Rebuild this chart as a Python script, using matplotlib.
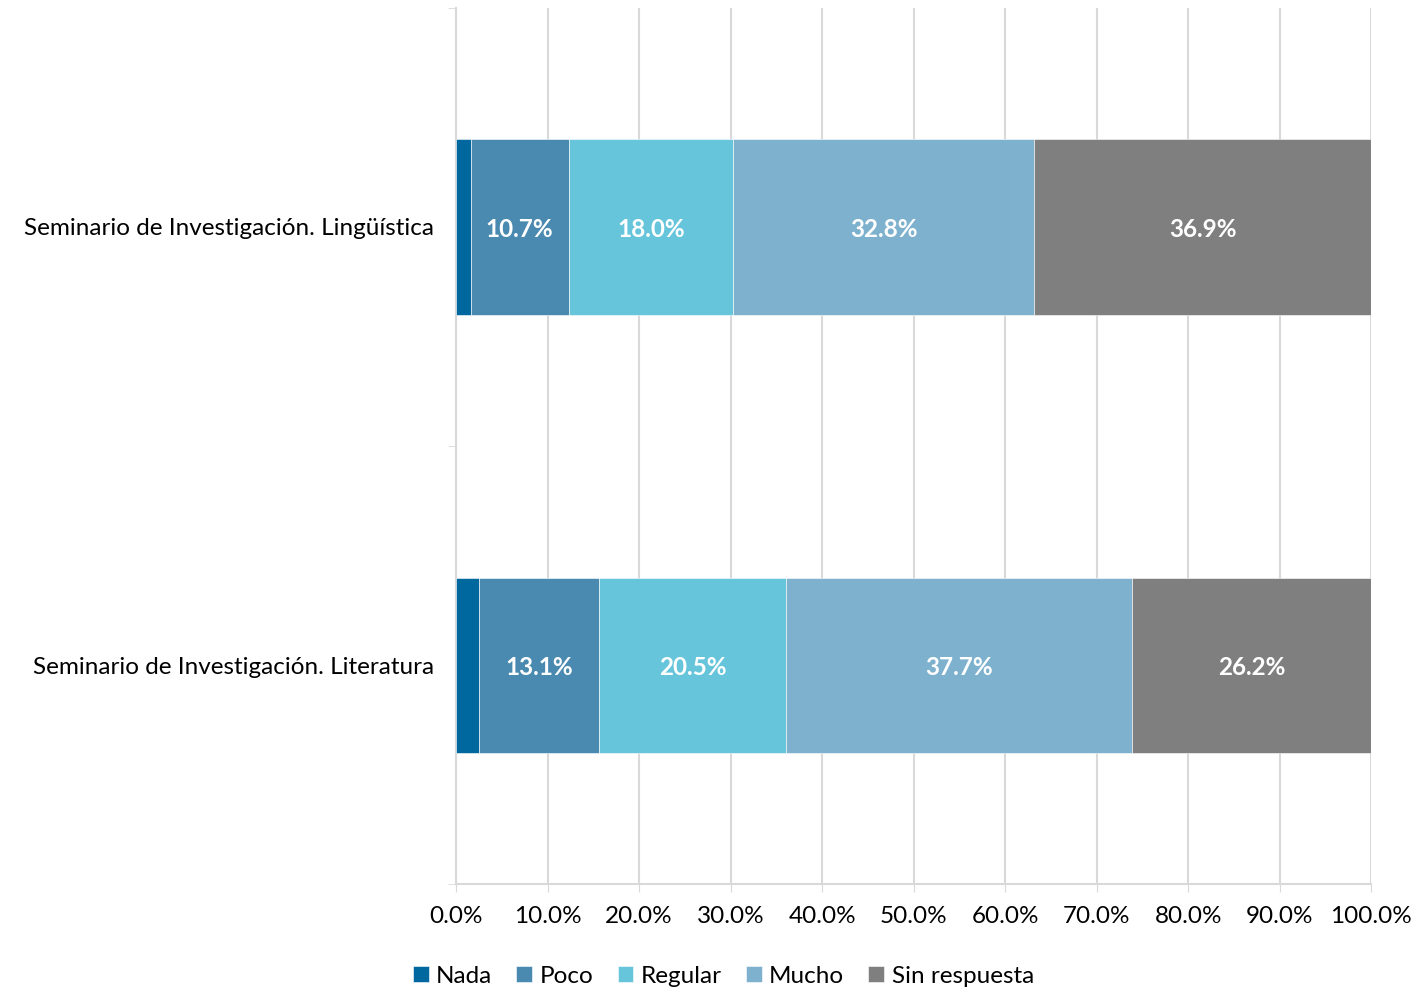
import matplotlib.pyplot as plt
import numpy as np

plt.rcParams['font.family'] = ['Lato', 'DejaVu Sans']

cursos = ['Seminario de Investigación. Literatura', 'Seminario de Investigación. Lingüística']
categorias = ['Nada', 'Poco', 'Regular', 'Mucho', 'Sin respuesta']
colores = ['#00679F', '#4A8AB0', '#66C5DB', '#7DB1CE', '#7F7F7F']

nada = [2.5, 1.6]
poco = [13.1, 10.7]
regular = [20.5, 18.0]
mucho = [37.7, 32.8]
sin_respuesta = [26.2, 36.9]
series = [nada, poco, regular, mucho, sin_respuesta]

fig = plt.figure(figsize=(14.18, 9.88), dpi=100)
ax = fig.add_axes([0.3216, 0.105, 0.6455, 0.887])

y = np.arange(len(cursos))
left = np.zeros(len(cursos))
for nombre, vals, color in zip(categorias, series, colores):
    vals = np.array(vals)
    ax.barh(y, vals, left=left, height=0.4, color=color, label=nombre,
            edgecolor='white', linewidth=0.4, zorder=3)
    if nombre != 'Nada':
        for yi, l, v in zip(y, left, vals):
            ax.text(l + v / 2, yi - 0.005, f'{v:.1f}%', ha='center', va='center',
                    color='white', fontsize=17.5, fontweight='bold', zorder=4)
    left += vals

ax.set_xlim(0, 100)
ax.set_ylim(-0.5, 1.5)
ax.set_xticks(np.arange(0, 101, 10))
ax.set_xticklabels([f'{v:.1f}%' for v in np.arange(0, 101, 10)], fontsize=17.5)
ax.set_yticks(y)
ax.set_yticklabels(cursos, fontsize=17.5)
ax.set_yticks([-0.5, 0.5, 1.5], minor=True)
ax.tick_params(axis='y', which='major', length=0, pad=16)
ax.tick_params(axis='y', which='minor', length=6, color='#D9D9D9')
ax.tick_params(axis='x', length=6, color='#D9D9D9', pad=10)
ax.grid(axis='x', color='#D9D9D9', linewidth=1.5, zorder=0)
for s in ['top', 'right']:
    ax.spines[s].set_visible(False)
for s in ['left', 'bottom']:
    ax.spines[s].set_color('#D9D9D9')
    ax.spines[s].set_linewidth(1.5)

ax.legend(loc='upper center', bbox_to_anchor=(0.292, -0.068), ncol=5, frameon=False,
          fontsize=17.5, handlelength=0.65, handleheight=0.65, handletextpad=0.3,
          columnspacing=1.0)

fig.savefig('out.png', dpi=100)
